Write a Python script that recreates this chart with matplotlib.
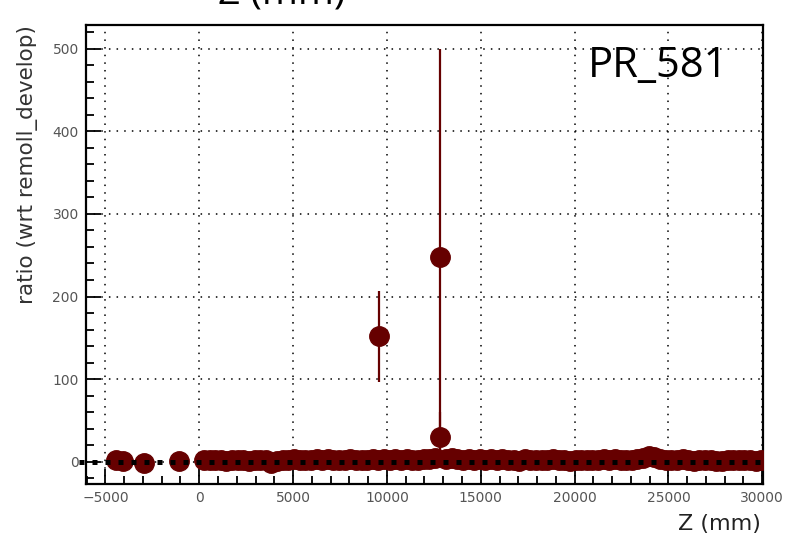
import matplotlib
matplotlib.use("Agg")
import matplotlib.pyplot as plt
from matplotlib.ticker import MultipleLocator

# detector positions (mm) and ratio values
z_low = [-4450, -4050, -2950, -1100,
         250, 550, 850, 1150, 1450, 1750, 2050, 2350, 2650, 2950,
         3250, 3550, 3850, 4150, 4450, 4750, 5050, 5350, 5650, 5950,
         6250, 6550, 6850, 7150, 7450, 7750, 8050, 8350, 8650, 8950,
         9250, 9550, 9850, 10150, 10450, 10750, 11050, 11350, 11650, 11950,
         12250, 12550, 13150, 13450, 13750, 14050, 14350, 14650, 14950,
         15250, 15550, 15850, 16150, 16450, 16750, 17050, 17350, 17650, 17950,
         18250, 18550, 18850, 19150, 19450, 19750, 20050, 20350, 20650, 20950,
         21250, 21550, 21850, 22150, 22450, 22750, 23050, 23350, 23650, 23950,
         24250, 24550, 24850, 25150, 25450, 25750, 26050, 26350, 26650, 26950,
         27250, 27550, 27850, 28150, 28450, 28750, 29050, 29350, 29650, 29950]
r_low = [1.5, 1.0, -1.0, 1.0,
         1.5, 2.0, 1.5, 2.0, 1.0, 2.5, 1.5, 2.0, 1.0, 1.5,
         2.0, 1.5, -1.5, 1.0, 2.5, 2.0, 3.0, 1.5, 2.5, 2.0,
         3.0, 2.0, 3.5, 2.5, 1.5, 2.0, 3.0, 2.5, 1.5, 2.0,
         3.5, 2.5, 3.0, 2.0, 3.5, 2.5, 3.0, 2.0, 2.5, 3.0,
         3.5, 4.0, 3.0, 4.5, 3.0, 2.5, 3.0, 2.0, 3.5,
         2.5, 3.5, 1.5, 3.0, 2.0, 2.5, 1.0, 3.0, 2.0, 1.5,
         2.5, 2.0, 3.0, 1.5, 2.0, 1.0, 2.5, 2.0, 1.5, 2.0,
         2.5, 3.0, 2.0, 3.5, 2.5, 1.5, 2.0, 3.0, 4.0, 6.5,
         5.5, 3.0, 2.0, 1.5, 2.5, 3.0, 2.0, 1.0, 1.5, 2.0,
         2.5, 0.5, 1.0, 2.0, 2.5, 2.0, 1.5, 2.5, 1.0, 1.5]

z_high = [9600, 12850, 12850]
r_high = [152, 248, 30]
r_high_err = [55, 252, 30]

fig = plt.figure(figsize=(7.86, 5.39), dpi=100)
ax = fig.add_axes([0.109, 0.102, 0.862, 0.852])

red = "#660000"
ax.errorbar(z_high, r_high, yerr=r_high_err, fmt="none", ecolor=red,
            elinewidth=1.6, zorder=3)
ax.plot(z_low + z_high, r_low + r_high, "o", color=red, ms=14,
        mec=red, zorder=4)

ax.axhline(0, xmin=-0.01, xmax=1.0, color="black", lw=3.6,
           dashes=(1, 1.6), clip_on=False, zorder=5)

ax.set_xlim(-6050, 30050)
ax.set_ylim(-27, 529)

ax.xaxis.set_major_locator(MultipleLocator(5000))
ax.xaxis.set_minor_locator(MultipleLocator(1000))
ax.yaxis.set_major_locator(MultipleLocator(100))
ax.yaxis.set_minor_locator(MultipleLocator(20))
ax.tick_params(which="both", direction="in", top=False, right=False,
               labelsize=10, labelcolor="#555555", width=1.3, pad=5)
ax.tick_params(which="major", length=11)
ax.tick_params(which="minor", length=6)
for lab in ax.get_xticklabels() + ax.get_yticklabels():
    lab.set_family("DejaVu Sans")
ax.grid(True, which="major", color="black", ls=(0, (1, 4)), lw=1.1)

for s in ax.spines.values():
    s.set_linewidth(1.6)

ax.set_ylabel("ratio (wrt remoll_develop)", fontsize=15.5, family="DejaVu Sans",
              color="#333333")
ax.yaxis.set_label_coords(-0.07, 1.0)
ax.yaxis.label.set_ha("right")

fig.text(0.968, 0.016, "Z (mm)", ha="right", va="baseline", fontsize=16,
         family="DejaVu Sans", color="#222222")

ax.text(0.948, 0.955, "PR_581", transform=ax.transAxes, ha="right", va="top",
        fontsize=30, family="Open Sans")

# leftover title from the slide above, cut off at the top
fig.text(0.358, 0.993, "Z (mm)", ha="center", va="baseline", fontsize=28,
         family="Open Sans")

fig.savefig("out.png", dpi=100)
